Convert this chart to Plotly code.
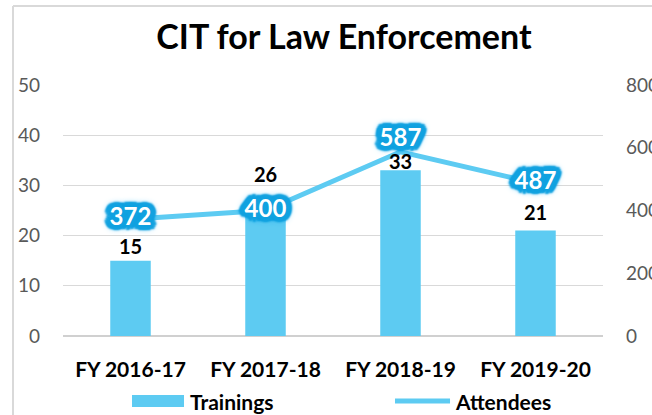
import plotly.graph_objects as go

categories = ["FY 2016-17", "FY 2017-18", "FY 2018-19", "FY 2019-20"]
trainings = [15, 26, 33, 21]
attendees = [372, 400, 587, 487]
left_ticks = [0, 10, 20, 30, 40, 50]
right_ticks = [0, 200, 400, 600, 800]

bar_color = "#5DCBF2"
glow = "#12A2E0"
font_family = "Lato, 'Open Sans', sans-serif"

fig = go.Figure()
fig.add_trace(go.Bar(
    x=categories, y=trainings, name="Trainings",
    marker=dict(color=bar_color, line=dict(width=0)),
    yaxis="y", showlegend=False,
))

offs = []
for dx, dy in [(4, 0), (-4, 0), (0, 4), (0, -4), (3, 3), (-3, 3), (3, -3), (-3, -3),
               (5, 2), (-5, 2), (5, -2), (-5, -2), (2, 0), (-2, 0), (0, 2), (0, -2),
               (6, 0), (-6, 0), (0, 5), (0, -5), (4, 4), (-4, 4), (4, -4), (-4, -4)]:
    offs.append(f"{dx}px {dy}px 2px {glow}")
offs += [f"0 0 {r}px {glow}" for r in (2, 4, 6, 8, 10)]
shadow = ", ".join(offs)

fig.add_trace(go.Scatter(
    x=categories, y=attendees, name="Attendees", yaxis="y2",
    mode="lines+text",
    line=dict(color=bar_color, width=5),
    text=[str(v) for v in attendees],
    textposition=["middle center", "middle center", "top center", "middle center"],
    textfont=dict(family=font_family, size=24, color="white", weight="bold", shadow=shadow),
    cliponaxis=False, showlegend=False,
))

bar_shift = [1, 17, -5, 5]
for c, v, s in zip(categories, trainings, bar_shift):
    fig.add_annotation(x=c, y=v, yref="y", text=f"<b>{v}</b>", showarrow=False,
                       yanchor="bottom", yshift=s,
                       font=dict(family=font_family, size=20, color="black"))

# custom legend
legend_font = dict(family=font_family, size=21, color="black")
fig.add_annotation(xref="paper", yref="paper", x=0.2315, y=-0.259, xanchor="left",
                   yanchor="middle", text="<b>Trainings</b>", showarrow=False, font=legend_font)
fig.add_annotation(xref="paper", yref="paper", x=0.722, y=-0.259, xanchor="left",
                   yanchor="middle", text="<b>Attendees</b>", showarrow=False, font=legend_font)

fig.update_layout(
    width=652, height=415,
    paper_bgcolor="white", plot_bgcolor="white",
    margin=dict(l=63, r=49, t=85, b=79, autoexpand=False),
    title=dict(text="<b>CIT for Law Enforcement</b>", x=0.5276, xanchor="center",
               y=0.91, yanchor="middle",
               font=dict(family=font_family, size=34, color="black")),
    bargap=0.7,
    showlegend=False,
    xaxis=dict(showgrid=False, showline=False, ticks="",
               tickfont=dict(family=font_family, size=21, color="black", weight="bold"),
               ticklabelstandoff=19),
    yaxis=dict(range=[0, 50], tickvals=left_ticks, showgrid=True, gridcolor="#D9D9D9",
               gridwidth=1, zeroline=True, zerolinecolor="#D0D0D0", zerolinewidth=2,
               showline=False, ticks="",
               tickfont=dict(family=font_family, size=19, color="#595959"),
               ticklabelstandoff=22),
    yaxis2=dict(range=[0, 800], tickvals=right_ticks, overlaying="y", side="right",
                showgrid=False, zeroline=False, showline=False, ticks="",
                tickfont=dict(family=font_family, size=19, color="#595959"),
                ticklabelstandoff=22),
    shapes=[
        dict(type="line", xref="paper", yref="paper", x0=-0.0926, x1=-0.0926,
             y0=-0.4, y1=1.315, line=dict(color="#D9D9D9", width=2)),
        dict(type="line", xref="paper", yref="paper", x0=-0.0926, x1=1.2,
             y0=1.315, y1=1.315, line=dict(color="#D9D9D9", width=2)),
        dict(type="rect", xref="paper", yref="paper", x0=0.1278, x1=0.2241,
             y0=-0.2829, y1=-0.2351, fillcolor=bar_color, line=dict(width=0)),
        dict(type="line", xref="paper", yref="paper", x0=0.6148, x1=0.7167,
             y0=-0.259, y1=-0.259, line=dict(color=bar_color, width=5)),
    ],
)

fig.write_html("out.html", config={"displayModeBar": False},
               post_script="document.body.style.margin='0';")
